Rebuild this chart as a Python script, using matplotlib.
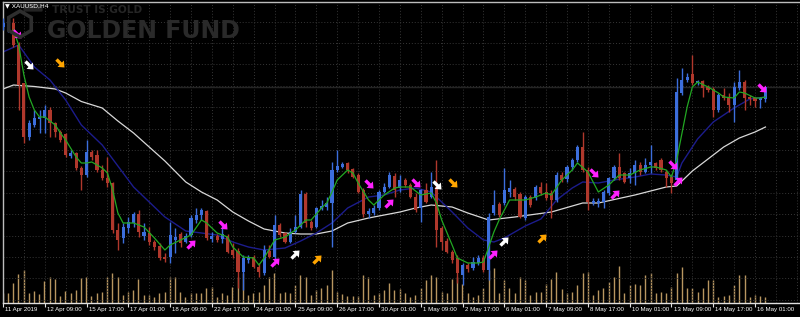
import matplotlib
matplotlib.use("Agg")
import matplotlib.pyplot as plt
import numpy as np
from matplotlib.patches import Polygon, FancyBboxPatch
from matplotlib.path import Path

# ---------------- data (XAUUSD H4) ----------------
opens = [1308.6,1308.0,1309.4,1305.0,1297.4,1286.6,1289.0,1290.2,1290.4,1292.0,
         1289.4,1287.6,1287.2,1282.8,1283.4,1280.4,1279.0,1283.6,1283.0,1280.0,
         1278.4,1277.4,1268.0,1266.4,1268.4,1269.4,1271.2,1266.8,1267.4,1265.6,
         1264.8,1262.6,1262.6,1266.0,1267.2,1265.6,1267.0,1270.0,1271.0,1271.8,
         1266.2,1266.8,1266.2,1266.8,1264.0,1263.8,1259.6,1262.0,1262.6,1260.6,
         1259.4,1263.8,1262.6,1269.0,1267.4,1265.6,1267.6,1268.6,1275.2,1269.6,
         1268.6,1272.2,1272.6,1273.4,1280.0,1280.6,1281.4,1280.2,1279.0,1276.0,
         1271.2,1271.4,1272.4,1275.6,1276.6,1278.8,1276.4,1278.0,1277.0,1274.6,
         1272.4,1276.0,1274.6,1276.6,1268.4,1265.8,1263.6,1262.4,1259.0,1261.0,
         1260.4,1261.4,1262.4,1260.0,1271.4,1273.2,1273.4,1275.6,1276.2,1275.2,
         1270.4,1274.6,1274.4,1276.6,1275.6,1275.4,1274.0,1279.0,1278.2,1280.6,
         1282.0,1284.6,1280.0,1273.4,1273.4,1273.6,1275.4,1278.4,1280.6,1279.4,
         1278.4,1279.4,1281.0,1279.6,1281.0,1281.4,1282.0,1279.6,1278.6,1278.0,
         1295.4,1298.0,1299.2,1297.4,1297.8,1296.6,1296.2,1292.0,1295.0,1294.6,
         1293.0,1296.4,1297.6,1294.6,1294.4,1294.0,1294.2]
highs = [1310.4,1309.6,1310.4,1305.6,1297.4,1290.0,1292.0,1292.0,1293.0,1292.6,
         1289.6,1288.0,1287.4,1284.0,1283.6,1280.8,1286.0,1284.0,1284.0,1281.0,
         1282.6,1277.6,1269.4,1269.4,1270.6,1271.6,1272.0,1269.4,1268.6,1266.0,
         1265.4,1263.4,1269.6,1268.4,1267.6,1267.4,1271.0,1272.4,1272.4,1272.0,
         1267.6,1267.2,1269.0,1267.2,1265.4,1264.4,1263.0,1263.0,1263.0,1261.4,
         1265.0,1265.0,1271.0,1269.4,1267.6,1268.4,1271.0,1276.0,1275.6,1270.0,
         1272.6,1274.0,1274.6,1281.6,1284.0,1281.6,1281.6,1280.4,1279.4,1276.4,
         1272.4,1273.0,1276.0,1277.4,1279.6,1279.4,1279.0,1278.4,1277.4,1275.4,
         1276.2,1277.4,1279.6,1282.0,1268.8,1266.4,1264.0,1263.0,1261.4,1261.4,
         1262.6,1263.0,1263.0,1271.4,1276.0,1273.6,1280.4,1278.0,1276.6,1275.6,
         1275.0,1275.0,1277.0,1277.6,1277.4,1276.0,1279.6,1279.6,1281.0,1282.4,
         1285.0,1287.6,1280.6,1274.4,1274.4,1276.0,1278.6,1281.0,1283.4,1279.6,
         1280.4,1282.0,1281.6,1282.4,1285.0,1281.6,1282.4,1280.0,1279.0,1298.4,
         1300.4,1299.4,1303.0,1298.0,1298.0,1297.0,1296.6,1295.4,1296.4,1295.4,
         1297.6,1300.0,1298.0,1295.0,1294.6,1294.6,1296.6]
lows = [1308.0,1307.6,1304.6,1292.0,1285.4,1286.0,1288.6,1287.4,1287.4,1286.6,
        1286.6,1285.6,1282.6,1282.4,1280.0,1276.0,1278.6,1282.0,1279.6,1278.0,
        1276.6,1267.4,1264.0,1265.4,1267.4,1268.6,1266.6,1266.0,1265.0,1264.0,
        1262.0,1261.6,1261.4,1263.4,1264.6,1265.4,1266.6,1269.4,1270.0,1266.0,
        1265.6,1265.6,1265.4,1263.4,1262.4,1256.4,1256.0,1261.4,1260.4,1258.6,
        1259.0,1262.4,1262.0,1266.6,1265.4,1265.4,1267.4,1268.4,1268.6,1268.0,
        1268.4,1272.0,1272.0,1264.6,1279.6,1280.4,1279.4,1278.4,1275.4,1270.6,
        1270.4,1271.0,1272.0,1275.4,1276.4,1274.6,1275.6,1276.6,1274.4,1271.6,
        1269.6,1273.4,1274.4,1264.6,1264.0,1263.4,1261.4,1257.4,1257.0,1259.6,
        1260.0,1261.0,1259.6,1258.0,1271.0,1270.6,1273.0,1274.6,1274.0,1270.4,
        1270.0,1272.6,1274.0,1275.0,1274.0,1270.4,1273.6,1277.6,1277.6,1280.0,
        1281.6,1279.6,1272.0,1273.0,1272.6,1272.4,1275.0,1278.0,1278.0,1277.4,
        1277.4,1277.0,1279.0,1279.4,1279.4,1280.0,1279.6,1276.6,1275.4,1277.6,
        1295.0,1297.6,1297.0,1297.0,1294.6,1295.6,1290.6,1291.6,1294.0,1291.6,
        1289.6,1296.0,1292.0,1293.0,1292.6,1292.4,1293.6]
closes = [1309.4,1309.0,1305.0,1297.0,1286.6,1289.4,1290.4,1290.6,1292.0,1289.4,
          1287.6,1286.0,1283.0,1283.4,1280.4,1279.0,1283.6,1282.6,1280.0,1278.4,
          1277.4,1268.0,1266.0,1268.6,1269.6,1271.2,1267.6,1267.6,1265.6,1264.6,
          1262.4,1262.2,1267.0,1266.6,1265.4,1266.8,1270.4,1271.0,1272.0,1266.4,
          1266.8,1266.0,1267.2,1263.6,1263.0,1259.6,1262.4,1262.6,1260.6,1259.6,
          1264.0,1262.6,1269.0,1267.0,1265.6,1267.6,1268.6,1275.2,1269.4,1268.4,
          1272.4,1272.8,1273.4,1280.0,1280.8,1281.2,1280.0,1278.6,1275.6,1271.2,
          1271.8,1272.4,1275.6,1276.6,1279.0,1276.0,1278.0,1277.0,1274.6,1272.0,
          1276.0,1273.6,1276.6,1268.0,1265.6,1263.6,1262.0,1259.4,1261.0,1260.2,
          1261.6,1262.4,1260.0,1270.6,1273.0,1271.0,1276.0,1276.4,1274.6,1270.6,
          1274.6,1273.0,1276.6,1275.4,1274.4,1274.0,1279.0,1278.0,1280.6,1282.0,
          1284.6,1280.0,1273.6,1273.8,1273.8,1275.6,1278.4,1280.6,1278.4,1277.6,
          1279.4,1281.0,1279.6,1281.0,1281.6,1280.4,1280.0,1278.4,1277.4,1295.6,
          1298.0,1298.6,1297.4,1297.8,1296.4,1296.0,1292.0,1295.0,1294.4,1293.0,
          1296.6,1297.6,1294.4,1294.2,1293.8,1294.4,1296.6]
volumes = [2500,2500,5000,7250,8250,2500,3000,2250,5500,6500,6000,1750,3000,2500,3250,
           6250,6500,1750,2500,2750,6500,7500,6500,2000,2750,3250,6000,2000,2000,1500,
           2500,2750,6500,6500,2750,1500,2500,2500,2500,3750,4000,1500,2500,2000,4000,
           6500,7500,2000,2500,2750,4500,6500,7500,2500,2750,2500,4500,7000,6500,2000,
           3250,3750,4500,8250,2750,2250,1750,1750,1750,7000,6500,2000,2500,3250,5000,
           3250,3500,2500,1500,2000,3750,5750,7000,6500,2750,2500,6000,6500,4750,2500,
           1500,2000,3750,8250,8750,2500,5750,3750,2500,6500,5750,2000,2750,2750,4750,
           6000,7750,3500,2500,2750,4500,7500,7750,2000,3250,3750,5250,6500,9250,2500,
           4500,4750,4500,7000,7500,2500,2750,2500,4000,7500,9000,3750,3750,2750,3750,
           5750,5750,1500,1750,2000,4500,7000,7000,1500,2000,1750,1500]

# moving averages: (bar index, value)
ma_fast_x = [2,3,4,5,6,7,8,10,11,12,14,15,16,17,19,20,21,22,23,25,27,29,31,32,34,36,38,39,
             41,43,44,46,48,49,50,52,54,56,58,59,61,62,63,64,66,67,68,70,71,73,75,76,78,80,
             82,83,84,86,87,89,91,92,94,95,97,99,100,102,104,105,107,109,110,112,113,114,116,
             118,120,122,124,125,127,128,129,131,132,133,135,137,138,140,141,142,144,145,146]
ma_fast_y = [1308.0,1305.0,1299.0,1294.6,1292.0,1290.6,1290.6,1289.0,1287.4,1286.0,1282.6,
             1281.4,1281.4,1281.6,1280.4,1279.4,1276.0,1271.4,1269.4,1269.4,1268.6,1266.4,
             1264.0,1265.0,1266.0,1267.0,1270.0,1269.4,1267.4,1266.6,1264.6,1262.6,1262.4,
             1261.0,1262.4,1266.0,1266.6,1268.0,1270.0,1270.0,1272.4,1273.4,1275.6,1278.0,
             1280.0,1279.4,1277.4,1274.0,1273.0,1275.0,1276.4,1276.6,1276.6,1275.0,1275.4,
             1273.4,1270.0,1265.0,1262.4,1261.4,1261.4,1261.6,1267.6,1270.0,1274.0,1274.0,
             1274.0,1274.6,1275.4,1275.0,1278.0,1280.0,1281.4,1279.6,1277.6,1275.6,1277.0,
             1279.0,1279.0,1280.0,1280.6,1280.6,1280.0,1278.6,1282.0,1292.6,1296.6,1297.6,
             1296.6,1295.4,1294.6,1294.4,1295.6,1295.4,1294.4,1294.4,1294.6]
ma_mid_x = [0,3,6,9,12,15,19,21,23,25,28,31,35,38,41,44,47,50,54,57,60,63,66,70,73,76,79,
            82,86,89,92,94,96,100,103,106,109,111,114,117,121,124,127,129,130,133,136,140,143,146]
ma_mid_y = [1303.6,1305.0,1300.6,1298.0,1294.0,1289.0,1285.0,1282.2,1279.4,1276.6,1273.6,
            1270.6,1267.8,1267.4,1267.0,1265.6,1264.6,1264.0,1264.4,1265.8,1267.4,1269.4,
            1272.4,1274.6,1275.0,1276.0,1276.4,1275.6,1271.6,1268.4,1266.0,1265.6,1266.4,
            1268.8,1270.2,1274.0,1276.4,1277.6,1277.4,1278.0,1278.6,1279.2,1279.0,1278.6,
            1281.4,1286.2,1289.6,1292.4,1294.2,1294.6]
ma_slow_x = [0,2,6,10,12,15,19,22,25,28,31,35,38,41,44,47,50,54,57,60,63,66,70,73,76,79,
             82,86,89,93,98,105,111,114,121,127,129,132,135,138,141,144,146]
ma_slow_y = [1296.2,1297.0,1296.7,1296.2,1295.4,1293.7,1292.4,1289.8,1287.4,1284.6,1281.8,
             1277.6,1275.6,1274.0,1271.6,1269.8,1268.2,1267.4,1267.2,1267.2,1267.8,1269.4,
             1270.4,1271.0,1271.6,1272.4,1273.0,1272.6,1271.4,1270.0,1270.6,1271.6,1273.4,
             1273.4,1275.0,1276.6,1276.8,1279.8,1282.2,1284.6,1286.4,1287.6,1288.6]

# signal arrows: (bar, price, direction, colour)
sig_x = [2.7,4.9,11.0,36.0,42.1,52.0,56.0,60.1,70.0,74.0,79.1,83.1,86.1,93.9,95.9,103.2,
         113.2,117.2,128.2,129.3,145.3]
sig_y = [1307.2,1301.0,1301.4,1265.3,1269.1,1261.7,1263.3,1262.3,1277.2,1273.5,1277.5,
         1277.0,1277.5,1263.2,1265.9,1266.5,1279.5,1275.3,1281.0,1277.9,1296.5]
sig_dir = ["dn","dn","dn","up","dn","up","up","up","dn","up","dn","dn","dn","up","up","up",
           "dn","up","dn","up","dn"]
sig_col = ["m","w","o","m","m","m","w","o","m","m","m","w","o","m","w","o","m","m","m","m","m"]

tick_labels = ["11 Apr 2019","12 Apr 09:00","15 Apr 17:00","17 Apr 01:00","18 Apr 09:00",
               "22 Apr 17:00","24 Apr 01:00","25 Apr 09:00","26 Apr 17:00","30 Apr 01:00",
               "1 May 09:00","2 May 17:00","6 May 01:00","7 May 09:00","8 May 17:00",
               "10 May 01:00","13 May 09:00","14 May 17:00","16 May 01:00"]
bars_per_label = 8

# ---------------- drawing ----------------
W, H = 800, 317
fig = plt.figure(figsize=(W/100, H/100), dpi=100, facecolor="black")
axv = fig.add_axes([3/W, 14/H, 797/W, 301/H])
ax = fig.add_axes([3/W, 14/H, 797/W, 301/H])
axv.set_facecolor("black")
ax.patch.set_visible(False)

n = len(opens)
x = np.arange(n)
o = np.array(opens); h = np.array(highs); l = np.array(lows); c = np.array(closes)

px_per_bar = 5.225
x0 = (3 - 2.6) / px_per_bar
xlim = (x0, x0 + 797 / px_per_bar)
ylim = (1253.4, 1313.6)
for a in (ax, axv):
    a.set_xlim(*xlim)
ax.set_ylim(*ylim)
axv.set_ylim(0, 301 * 250)

# grid (dotted)
gcol = "#363636"
for b in range(0, 156, 4):
    ax.axvline(b, color=gcol, lw=0.7, ls=(0, (1, 2)), zorder=0)
for k in range(14):
    ax.axhline(1309.7 - 4.28 * k, color=gcol, lw=0.7, ls=(0, (1, 2)), zorder=0)

# volumes
axv.vlines(x, 0, volumes, color="#b89660", lw=1.0)

# bid line
ax.axhline(c[-1], color="#252525", lw=1.0, zorder=1)

# watermark
fig.text(52/W, 1 - 10/H, "TRUST IS GOLD", color="#262626", fontsize=7.6,
         fontweight="bold", va="center", ha="left", family="DejaVu Sans")
fig.text(47/W, 1 - 31/H, "GOLDEN FUND", color="#2a2a2a", fontsize=17,
         fontweight="bold", va="center", ha="left", family="DejaVu Sans")
cx, cy, r = 20, 24, 13
hx = [cx + r*np.cos(np.radians(a)) for a in range(30, 390, 60)]
hy = [cy + r*np.sin(np.radians(a)) for a in range(30, 390, 60)]
fig.add_artist(Polygon([(xx/W, 1 - yy/H) for xx, yy in zip(hx, hy)], closed=True,
                       fill=False, ec="#2e2e2e", lw=2.6, transform=fig.transFigure))

# moving averages
ax.plot(ma_slow_x, ma_slow_y, color="#d8d8d8", lw=0.9, zorder=2)
ax.plot(ma_mid_x, ma_mid_y, color="#1c1c8c", lw=1.0, zorder=2)
ax.plot(ma_fast_x, ma_fast_y, color="#22a822", lw=0.9, zorder=4)

# candles
up = c >= o
col = np.where(up, "#3c6edc", "#b0382c")
ax.vlines(x, l, h, color=col, lw=1.0, zorder=3)
body_lo = np.minimum(o, c)
body_h = np.maximum(np.abs(c - o), 0.25)
ax.bar(x, body_h, bottom=body_lo, width=0.6, color=col, lw=0, zorder=3)

# signal arrows (thick diagonal arrow markers)
base = np.array([(-1.0, -0.3), (0.05, -0.3), (0.05, -0.8), (1.0, 0.0), (0.05, 0.8),
                 (0.05, 0.3), (-1.0, 0.3), (-1.0, -0.3)])
def arrow_path(deg):
    t = np.radians(deg)
    rot = np.array([[np.cos(t), -np.sin(t)], [np.sin(t), np.cos(t)]])
    return Path(base @ rot.T, closed=True)
m_dn = arrow_path(-45)
m_up = arrow_path(45)
cmap = {"m": "#ff20ff", "w": "#ffffff", "o": "#ffa500"}
for xi, yi, d, cc in zip(sig_x, sig_y, sig_dir, sig_col):
    ax.plot([xi], [yi], marker=m_dn if d == "dn" else m_up, ms=7.5, color=cmap[cc],
            mec="none", zorder=6, ls="none")

# symbol label
fig.text(5/W, 1 - 6/H, "\u25BC XAUUSD,H4", color="white", fontsize=4.5,
         va="center", ha="left")
fig.add_artist(FancyBboxPatch((25/W, 1 - 11/H), 16/W, 7/H, boxstyle="round,pad=0.002",
                              fc="#2a2a2a", ec="none", alpha=0.85, transform=fig.transFigure))

# axes styling
for a in (ax, axv):
    a.set_yticks([])
    a.tick_params(axis="both", which="both", length=0, labelbottom=False, labelleft=False)
    for s in a.spines.values():
        s.set_visible(False)
for side, colr in (("left", "#bdbdbd"), ("top", "#bdbdbd"), ("bottom", "#e0e0e0")):
    ax.spines[side].set_visible(True)
    ax.spines[side].set_color(colr)
    ax.spines[side].set_linewidth(1.0)

tick_pos = [bars_per_label * k for k in range(len(tick_labels))]
ax.set_xticks(tick_pos)
ax.tick_params(axis="x", length=3, width=0.8, color="#e0e0e0", direction="out")
for tp, lab in zip(tick_pos, tick_labels):
    ax.annotate(lab, xy=(tp, 0), xycoords=("data", "axes fraction"),
                xytext=(1.5, -5.0), textcoords="offset points", color="white",
                fontsize=4.45, family="Liberation Sans", ha="left", va="center",
                annotation_clip=False)

fig.savefig("out.png", dpi=100, facecolor="black")
